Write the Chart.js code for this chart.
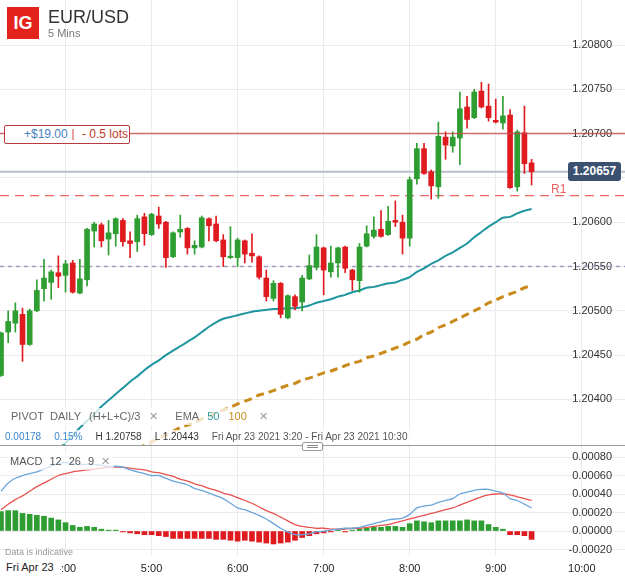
<!DOCTYPE html>
<html>
<head>
<meta charset="utf-8">
<title>EUR/USD 5 Mins</title>
<script src="https://cdn.jsdelivr.net/npm/chart.js@4.4.1/dist/chart.umd.min.js"></script>
<style>
  html, body { margin: 0; padding: 0; background: #fff; }
  body { position: relative; width: 625px; height: 577px; overflow: hidden;
         font-family: Arial, "Liberation Sans", sans-serif; color: #333; }
  canvas { position: absolute; left: 0; }
  #chart-main { top: 0; }
  #chart-macd { top: 446px; }
  .abs { position: absolute; white-space: nowrap; }
  .logo { left: 7px; top: 7px; width: 32px; height: 32px; background: #e3231c; color: #fff;
          font: bold 18px/32px Arial, "Liberation Sans", sans-serif; text-align: center; }
  .pair { left: 48px; top: 8px; font-size: 18px; line-height: 18px; color: #333; }
  .tf { left: 48px; top: 28px; font-size: 11px; line-height: 11px; color: #777; }
  .pos-box { left: 4px; top: 125px; width: 124px; height: 17px; border: 1px solid #b93a3e; border-radius: 2px;
             background: #fff; font-size: 12px; line-height: 17px; }
  .pos-box .pl { position: absolute; left: 19px; color: #4a7fbf; }
  .pos-box .sep { position: absolute; left: 67px; top: 3px; width: 2px; height: 11px; background: #e9a0a0; }
  .pos-box .lots { position: absolute; left: 77px; color: #c0392b; }
  .tag { left: 568px; top: 162px; width: 53px; height: 19px; background: #3c5070; border-radius: 3px;
         color: #fff; font: bold 12px/19px Arial, "Liberation Sans", sans-serif; text-align: center; }
  .r1 { left: 551px; top: 183px; font-size: 12px; line-height: 12px; color: #e8615e; }
  .legend { left: 0; top: 408px; padding: 2px 6px 2px 11px; font-size: 11px; line-height: 13px; color: #666;
            background: rgba(255,255,255,0.75); }
  .legend span { margin-right: 6px; }
  .legend .x { color: #999; margin-right: 17px; }
  .info { left: 0; top: 430px; padding: 1px 4px 1px 5px; font-size: 10px; line-height: 12px; color: #333;
          background: rgba(255,255,255,0.75); }
  .info span { margin-right: 13px; }
  .blue { color: #3b86cf; }
  .sepline { left: 0; top: 445px; width: 625px; height: 1px; background: #9a9a9a; }
  .handle { left: 302px; top: 442px; width: 19px; height: 7px; border: 1px solid #999; border-radius: 2px; background: #fff; }
  .handle i { position: absolute; left: 4px; width: 11px; height: 1px; background: #888; }
  .macd-label { left: 6px; top: 453px; padding: 1px 4px; font-size: 11px; line-height: 15px; color: #555;
                background: rgba(255,255,255,0.7); }
  .macd-label span { margin-right: 7px; }
  .indicative { left: 5px; top: 548px; font-size: 9px; line-height: 9px; color: #999; }
  .date { left: 0; top: 560px; padding: 0 6px 0 6px; height: 16px; font-size: 11px; line-height: 15px; color: #222; background: #fff; }
</style>
</head>
<body>
<canvas id="chart-main" width="625" height="445"></canvas>
<canvas id="chart-macd" width="625" height="131"></canvas>

<div class="abs logo">IG</div>
<div class="abs pair">EUR/USD</div>
<div class="abs tf">5 Mins</div>
<div class="abs pos-box"><span class="pl">+$19.00</span><span class="sep"></span><span class="lots">- 0.5 lots</span></div>
<div class="abs tag">1.20657</div>
<div class="abs r1">R1</div>
<div class="abs legend"><span>PIVOT</span><span style="margin-right:8px">DAILY</span><span style="margin-right:9px">(H+L+C)/3</span><span class="x">✕</span><span style="margin-right:8px">EMA</span><span style="color:#2a9d9f;margin-right:9px">50</span><span style="color:#c98b1c;margin-right:12px">100</span><span class="x">✕</span></div>
<div class="abs info"><span class="blue">0.00178</span><span class="blue">0.15%</span><span>H 1.20758</span><span>L 1.20443</span><span style="color:#555">Fri Apr 23 2021 3:20 - Fri Apr 23 2021 10:30</span></div>
<div class="abs sepline"></div>
<div class="abs handle"><i style="top:2px"></i><i style="top:4px"></i></div>
<div class="abs macd-label"><span>MACD</span><span>12</span><span>26</span><span>9</span><span style="color:#999;margin-right:0">✕</span></div>
<div class="abs indicative">Data is indicative</div>
<div class="abs date">Fri Apr 23</div>

<script>
// ─── Data ────────────────────────────────────────────────────────────────────
const firstCandleMinute = 195;   // 3:15
const candleStep = 5;            // 5 Mins

const opens = [1.20427,1.20476,1.20486,1.20496,1.20462,1.20500,1.20525,1.20532,1.20543,1.20540,
  1.20554,1.20520,1.20535,1.20590,1.20597,1.20581,1.20587,1.20602,1.20579,1.20578,
  1.20606,1.20586,1.20607,1.20600,1.20561,1.20589,1.20593,1.20571,1.20572,1.20604,
  1.20598,1.20580,1.20560,1.20560,1.20579,1.20565,1.20561,1.20537,1.20514,1.20531,
  1.20492,1.20516,1.20510,1.20536,1.20549,1.20571,1.20544,1.20554,1.20572,1.20546,
  1.20534,1.20573,1.20584,1.20592,1.20586,1.20602,1.20600,1.20582,1.20649,1.20683,
  1.20657,1.20640,1.20696,1.20686,1.20695,1.20730,1.20718,1.20748,1.20731,1.20715,
  1.20712,1.20721,1.20640,1.20701,1.20667];
const highs = [1.20476,1.20500,1.20509,1.20503,1.20502,1.20535,1.20558,1.20546,1.20562,1.20557,
  1.20557,1.20558,1.20593,1.20600,1.20599,1.20602,1.20605,1.20604,1.20589,1.20608,
  1.20610,1.20610,1.20617,1.20601,1.20589,1.20608,1.20594,1.20579,1.20607,1.20605,
  1.20607,1.20586,1.20595,1.20582,1.20580,1.20587,1.20562,1.20546,1.20534,1.20532,
  1.20518,1.20518,1.20540,1.20563,1.20586,1.20572,1.20573,1.20572,1.20573,1.20547,
  1.20576,1.20596,1.20606,1.20613,1.20618,1.20624,1.20608,1.20651,1.20689,1.20689,
  1.20659,1.20713,1.20702,1.20702,1.20747,1.20742,1.20750,1.20758,1.20756,1.20739,
  1.20742,1.20727,1.20704,1.20731,1.20671];
const lows = [1.20426,1.20464,1.20476,1.20443,1.20461,1.20499,1.20511,1.20513,1.20526,1.20521,
  1.20520,1.20519,1.20528,1.20572,1.20572,1.20563,1.20573,1.20573,1.20560,1.20567,
  1.20574,1.20585,1.20593,1.20549,1.20560,1.20583,1.20564,1.20564,1.20571,1.20579,
  1.20578,1.20550,1.20559,1.20550,1.20554,1.20555,1.20536,1.20511,1.20511,1.20492,
  1.20491,1.20501,1.20500,1.20535,1.20546,1.20518,1.20538,1.20538,1.20543,1.20523,
  1.20521,1.20572,1.20582,1.20583,1.20585,1.20595,1.20564,1.20573,1.20643,1.20654,
  1.20626,1.20627,1.20671,1.20679,1.20665,1.20706,1.20717,1.20729,1.20714,1.20712,
  1.20705,1.20638,1.20635,1.20655,1.20642];
const closes = [1.20475,1.20488,1.20500,1.20462,1.20500,1.20523,1.20537,1.20544,1.20539,1.20553,
  1.20521,1.20536,1.20592,1.20598,1.20579,1.20588,1.20604,1.20578,1.20576,1.20604,
  1.20587,1.20609,1.20598,1.20560,1.20588,1.20592,1.20571,1.20574,1.20605,1.20596,
  1.20579,1.20561,1.20561,1.20580,1.20564,1.20562,1.20538,1.20516,1.20531,1.20496,
  1.20517,1.20505,1.20537,1.20551,1.20572,1.20546,1.20554,1.20571,1.20548,1.20535,
  1.20572,1.20587,1.20591,1.20584,1.20601,1.20600,1.20582,1.20648,1.20683,1.20655,
  1.20641,1.20697,1.20687,1.20696,1.20728,1.20716,1.20747,1.20730,1.20718,1.20713,
  1.20720,1.20639,1.20702,1.20666,1.20657];

const ema50 = [null,null,null,null,null,null,null,null,
  1.20343,1.20351,1.20359,1.20368,1.20376,1.20383,1.20392,1.20399,1.20406,1.20413,
  1.20420,1.20426,1.20433,1.20439,1.20444,1.20450,1.20455,1.20460,1.20465,1.20470,
  1.20476,1.20482,1.20487,1.20491,1.20493,1.20495,1.20497,1.20499,1.20500,1.20501,
  1.20502,1.20502,1.20503,1.20503,1.20504,1.20506,1.20509,1.20511,1.20513,1.20516,
  1.20518,1.20521,1.20523,1.20526,1.20527,1.20529,1.20531,1.20532,1.20535,1.20538,
  1.20544,1.20548,1.20553,1.20557,1.20562,1.20566,1.20571,1.20576,1.20583,1.20589,
  1.20595,1.20600,1.20605,1.20606,1.20610,1.20613,1.20615];
const ema100 = [null,null,null,null,null,null,null,null,null,null,
  null,null,null,null,null,null,null,null,null,
  1.20345,1.20348,1.20352,1.20356,1.20360,1.20364,1.20368,1.20371,1.20374,1.20378,
  1.20381,1.20385,1.20388,1.20391,1.20395,1.20398,1.20401,1.20405,1.20407,1.20410,
  1.20413,1.20416,1.20418,1.20422,1.20424,1.20427,1.20430,1.20432,1.20435,1.20438,
  1.20441,1.20443,1.20447,1.20449,1.20452,1.20455,1.20458,1.20461,1.20465,1.20468,
  1.20473,1.20476,1.20481,1.20484,1.20488,1.20492,1.20496,1.20500,1.20504,1.20509,
  1.20512,1.20516,1.20519,1.20522,1.20526,1.20528];

const macdLine = [0.00043,0.00052,0.00057,0.00060,0.00062,0.00064,0.00067,0.00070,0.00073,0.00074,
  0.00073,0.00072,0.00072,0.00072,0.00071,0.00070,0.00070,0.00069,0.00066,0.00064,
  0.00062,0.00060,0.00060,0.00057,0.00054,0.00052,0.00050,0.00046,0.00044,0.00041,
  0.00038,0.00035,0.00030,0.00025,0.00023,0.00020,0.00017,0.00013,0.00008,0.00003,
  -0.00001,-0.00004,-0.00004,-0.00003,-0.00001,0.00000,0.00001,0.00002,0.00003,0.00003,
  0.00004,0.00006,0.00008,0.00010,0.00012,0.00013,0.00014,0.00018,0.00025,0.00027,
  0.00028,0.00031,0.00033,0.00035,0.00040,0.00042,0.00044,0.00045,0.00045,0.00043,
  0.00041,0.00035,0.00033,0.00029,0.00025];
const signalLine = [0.00023,0.00029,0.00034,0.00038,0.00043,0.00048,0.00052,0.00056,0.00060,0.00062,
  0.00064,0.00065,0.00066,0.00067,0.00068,0.00069,0.00069,0.00069,0.00068,0.00067,
  0.00066,0.00064,0.00063,0.00061,0.00059,0.00056,0.00054,0.00051,0.00049,0.00046,
  0.00044,0.00041,0.00039,0.00036,0.00033,0.00030,0.00026,0.00022,0.00019,0.00015,
  0.00011,0.00007,0.00005,0.00004,0.00003,0.00003,0.00002,0.00002,0.00002,0.00003,
  0.00003,0.00004,0.00005,0.00006,0.00007,0.00009,0.00011,0.00013,0.00015,0.00017,
  0.00019,0.00021,0.00023,0.00025,0.00028,0.00031,0.00034,0.00037,0.00039,0.00040,
  0.00040,0.00039,0.00037,0.00035,0.00033];
const histogram = [0.00021,0.00022,0.00022,0.00019,0.00018,0.00017,0.00016,0.00014,0.00012,0.00009,
  0.00006,0.00004,0.00005,0.00004,0.00002,0.00001,0.00001,-0.00001,-0.00002,-0.00003,
  -0.00004,-0.00004,-0.00005,-0.00006,-0.00008,-0.00008,-0.00008,-0.00008,-0.00008,-0.00008,
  -0.00009,-0.00009,-0.00010,-0.00011,-0.00010,-0.00011,-0.00012,-0.00013,-0.00014,-0.00013,
  -0.00012,-0.00010,-0.00007,-0.00005,-0.00003,-0.00002,-0.00001,0.00001,-0.00001,0.00001,
  0.00002,0.00003,0.00004,0.00004,0.00005,0.00005,0.00004,0.00008,0.00011,0.00010,
  0.00009,0.00011,0.00011,0.00011,0.00011,0.00012,0.00011,0.00011,0.00007,0.00004,
  0.00002,-0.00004,-0.00004,-0.00005,-0.00009];

const priceTicks = [1.20400,1.20450,1.20500,1.20550,1.20600,1.20650,1.20700,1.20750,1.20800];
const macdTicks = [-0.0002,0,0.0002,0.0004,0.0006,0.0008];
const hourTicks = [240,300,360,420,480,540,600];
const hourLabels = ['4:00','5:00','6:00','7:00','8:00','9:00','10:00'];

const positionLevel = 1.20700;
const lastPrice = 1.20657;
const pivotR1 = 1.20630;
const pivotP = 1.20550;

// ─── Styling ─────────────────────────────────────────────────────────────────
const UP = '#2f9e32';
const DOWN = '#e01b1f';
const GRID = '#ebebeb';
const X_MIN = 194.30, X_MAX = 630.14;

Chart.defaults.font.family = 'Arial, "Liberation Sans", sans-serif';
Chart.defaults.font.size = 11;
Chart.defaults.color = '#333';
Chart.defaults.animation = false;

const minutes = opens.map((_, i) => firstCandleMinute + i * candleStep);
const isUp = i => closes[i] >= opens[i];

function xScale(showLabels) {
  return {
    type: 'linear', min: X_MIN, max: X_MAX, offset: false,
    border: { display: false },
    grid: { color: GRID, drawTicks: false, offset: false },
    afterBuildTicks: s => { s.ticks = hourTicks.map(v => ({ value: v })); },
    afterFit: s => { s.height = showLabels ? 21 : 0; s.paddingLeft = 0; s.paddingRight = 0; },
    ticks: {
      display: showLabels, padding: 6, maxRotation: 0, autoSkip: false,
      font: { size: 11 }, color: '#222',
      callback: v => hourLabels[hourTicks.indexOf(v)]
    }
  };
}

function yScale(min, max, tickList) {
  return {
    type: 'linear', position: 'right', min, max,
    border: { display: false },
    grid: { color: GRID, drawTicks: false },
    afterBuildTicks: s => { s.ticks = tickList.map(v => ({ value: v })); },
    afterFit: s => { s.width = 0; s.paddingTop = 0; s.paddingBottom = 0; },
    ticks: { mirror: true, padding: -13, color: '#333', font: { size: 11 }, callback: v => v.toFixed(5) }
  };
}

function levelLine(level, color, width, dash, order) {
  return {
    type: 'line', order,
    data: [{ x: X_MIN, y: level }, { x: X_MAX, y: level }],
    borderColor: color, borderWidth: width, borderDash: dash, pointRadius: 0
  };
}

// ─── Price Chart ─────────────────────────────────────────────────────────────
new Chart(document.getElementById('chart-main'), {
  type: 'bar',
  data: {
    datasets: [
      levelLine(positionLevel, 'rgba(196,72,72,0.8)', 1.5, [], 0),
      {
        label: 'Body', order: 1, grouped: false, barThickness: 5, minBarLength: 1.5,
        data: minutes.map((m, i) => ({ x: m, y: [opens[i], closes[i]] })),
        backgroundColor: c => isUp(c.dataIndex) ? UP : DOWN, borderWidth: 0
      },
      {
        label: 'Wick', order: 2, grouped: false, barThickness: 1,
        data: minutes.map((m, i) => ({ x: m, y: [lows[i], highs[i]] })),
        backgroundColor: c => isUp(c.dataIndex) ? UP : DOWN, borderWidth: 0
      },
      {
        type: 'line', label: 'EMA 50', order: 3,
        data: minutes.map((m, i) => ({ x: m, y: ema50[i] })),
        borderColor: '#1f969f', borderWidth: 2, pointRadius: 0, tension: 0.3
      },
      {
        type: 'line', label: 'EMA 100', order: 4,
        data: minutes.map((m, i) => ({ x: m, y: ema100[i] })),
        borderColor: '#c98b1c', borderWidth: 3, borderDash: [8, 5], pointRadius: 0, tension: 0.3
      },
      levelLine(lastPrice, '#b9bfca', 2, [], 5),
      levelLine(pivotR1, '#f06464', 1.3, [9, 6], 6),
      levelLine(pivotP, '#a59bbf', 1.5, [4, 4], 7)
    ]
  },
  options: {
    responsive: false,
    layout: { padding: 0 },
    plugins: { legend: { display: false }, tooltip: { enabled: false } },
    scales: {
      x: xScale(false),
      y: yScale(1.2034853, 1.208508, priceTicks)
    }
  }
});

// ─── MACD Chart ──────────────────────────────────────────────────────────────
new Chart(document.getElementById('chart-macd'), {
  type: 'bar',
  data: {
    datasets: [
      {
        type: 'line', label: 'MACD', order: 0,
        data: minutes.map((m, i) => ({ x: m, y: macdLine[i] })),
        borderColor: '#6aa5dc', borderWidth: 1.3, pointRadius: 0, tension: 0.3
      },
      {
        type: 'line', label: 'Signal', order: 1,
        data: minutes.map((m, i) => ({ x: m, y: signalLine[i] })),
        borderColor: '#e8524f', borderWidth: 1.3, pointRadius: 0, tension: 0.3
      },
      {
        label: 'Histogram', order: 2, grouped: false, barThickness: 5,
        data: minutes.map((m, i) => ({ x: m, y: histogram[i] })),
        backgroundColor: c => histogram[c.dataIndex] >= 0 ? UP : DOWN, borderWidth: 0
      }
    ]
  },
  options: {
    responsive: false,
    layout: { padding: 0 },
    plugins: { legend: { display: false }, tooltip: { enabled: false } },
    scales: {
      x: xScale(true),
      y: yScale(-0.00027, 0.000919, macdTicks)
    }
  }
});
</script>
</body>
</html>
